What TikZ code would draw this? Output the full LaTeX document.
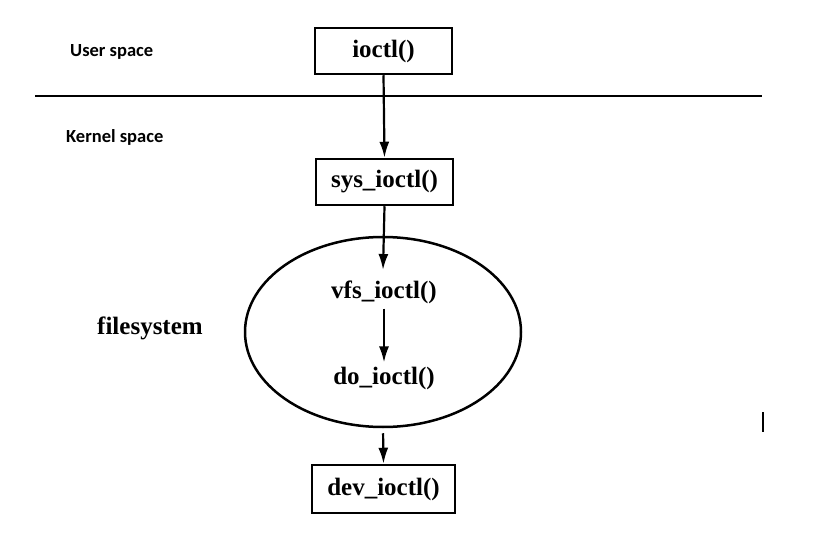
\documentclass[tikz,border=0pt]{standalone}
\usepackage{fontspec}
\setmainfont{Liberation Serif}
\newfontfamily\labelfont{Carlito}
\usetikzlibrary{arrows.meta,shapes.geometric}
\begin{document}
\begin{tikzpicture}[x=1pt,y=-1pt,
  fnbox/.style={draw,line width=2.5pt,inner sep=0pt,minimum height=46pt,font=\bfseries\fontsize{25}{28}\selectfont},
  spacelabel/.style={anchor=west,inner sep=0pt,font=\labelfont\bfseries\fontsize{18.5}{22}\selectfont},
  conn/.style={line width=2.2pt,-{Latex[length=16pt,width=10pt]}},
  fntext/.style={inner sep=0pt,font=\bfseries\fontsize{25}{28}\selectfont}]
\useasboundingbox (0,0) rectangle (827,537);
\node[spacelabel] (user) at (70,52) {User space};
\node[spacelabel] (kernel) at (66,137) {Kernel space};
\node[fnbox,minimum width=137pt] (ioctl) at (383.5,51) {ioctl()};
\coordinate (lineL) at (35,96);
\coordinate (lineR) at (762,96);
\draw[line width=1.8pt] (lineL) -- (lineR);
\node[fnbox,minimum width=137pt] (sys) at (384.5,182) {sys\_ioctl()};
\node[draw,ellipse,line width=2.5pt,minimum width=276pt,minimum height=190pt,inner sep=0pt] (fs) at (383,332) {};
\node[fntext] (vfs) at (384,292) {vfs\_ioctl()};
\node[fntext] (do) at (384,378) {do\_ioctl()};
\node[fntext,anchor=west] (fslabel) at (97,328) {filesystem};
\node[fnbox,minimum width=143pt,minimum height=48pt] (dev) at (383.5,489) {dev\_ioctl()};
\coordinate (fsin) at (383,270);
\draw[conn] (ioctl.south) -- (sys.north);
\draw[conn] (sys.south) -- (fsin);
\draw[conn,shorten <=5pt,shorten >=4pt] (vfs.south) -- (do.north);
\draw[conn,shorten <=5pt] (fs.south) -- (dev.north);
\coordinate (barT) at (763,412);
\coordinate (barB) at (763,432);
\draw[line width=2pt] (barT) -- (barB);
\end{tikzpicture}
\end{document}
